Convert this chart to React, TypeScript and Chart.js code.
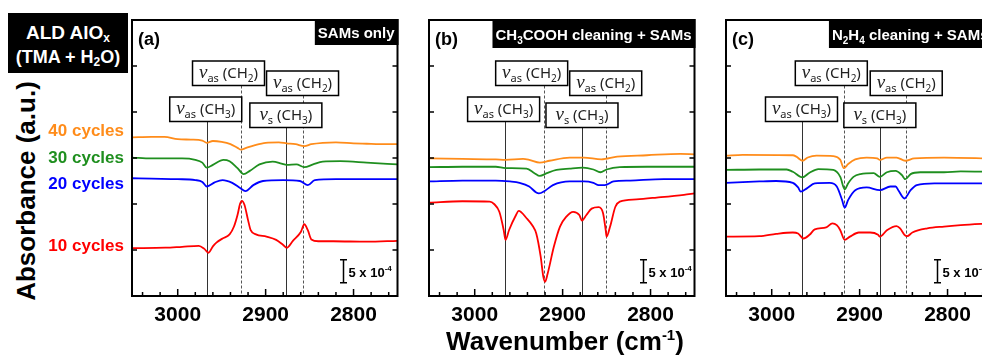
import React, { useEffect, useRef } from 'react';
import { Chart, registerables } from 'chart.js';

Chart.register(...registerables);

// ---------- axes ----------
const X_MIN = 2750;
const X_MAX = 3052;
const Y_MIN = 0;
const Y_MAX = 60; // absorbance, units of 1e-4
const xMinorTicks = [3040, 3020, 3000, 2980, 2960, 2940, 2920, 2900, 2880, 2860, 2840, 2820, 2800, 2780, 2760];
const xMajorTicks = [3000, 2900, 2800];
const yTicks = [10, 20, 30, 40, 50];

// ---------- series (wavenumber, absorbance x1e-4) ----------
const cycleLabels = ['40 cycles', '30 cycles', '20 cycles', '10 cycles'];
const cycleColors = ['#ff8c1a', '#1f8f1f', '#0000ff', '#ff0000'];

type Pair = [number, number];

const a40: Pair[] = [[3052,34.5],[3030,34.6],[3015,34.6],[3000,34.1],[2985,34.0],[2972,33.8],[2967,33.3],[2960,33.7],[2950,33.5],[2940,33.0],[2932,32.2],[2928,31.8],[2922,32.2],[2912,32.8],[2900,33.3],[2885,33.4],[2876,33.2],[2866,33.0],[2856,32.6],[2848,33.0],[2835,33.3],[2820,33.4],[2800,33.2],[2785,33.1],[2770,33.0],[2750,33.0]];
const a30: Pair[] = [[3052,30.1],[3030,29.9],[3014,29.9],[2995,29.9],[2980,29.6],[2972,29.0],[2967,27.9],[2960,28.5],[2948,29.6],[2941,29.3],[2932,27.8],[2925,26.5],[2918,27.2],[2907,28.6],[2892,29.2],[2882,28.8],[2876,28.5],[2865,28.6],[2856,28.0],[2846,28.6],[2835,29.2],[2815,29.3],[2785,29.0],[2750,28.6]];
const a20: Pair[] = [[3052,25.6],[3030,25.5],[3000,25.4],[2980,25.2],[2972,24.8],[2967,23.8],[2958,24.7],[2949,25.2],[2938,24.6],[2929,23.5],[2923,22.8],[2914,24.1],[2903,25.0],[2880,25.2],[2861,25.0],[2852,24.1],[2844,25.2],[2820,25.4],[2750,25.4]];
const a10: Pair[] = [[3052,10.4],[3014,10.5],[2995,10.7],[2976,10.9],[2970,10.3],[2965,9.4],[2960,10.8],[2956,11.6],[2949,12.5],[2941,13.4],[2936,15.1],[2932,17.6],[2929,20.1],[2927,20.7],[2924,19.8],[2920,16.5],[2917,14.3],[2911,13.4],[2899,12.9],[2888,12.2],[2880,11.1],[2876,10.5],[2869,12.0],[2860,13.9],[2856,15.6],[2852,14.3],[2848,12.3],[2840,11.9],[2823,11.9],[2785,11.8],[2750,12.0]];

const b40: Pair[] = [[3052,29.9],[3014,29.8],[2976,29.7],[2965,29.6],[2945,29.8],[2938,29.6],[2926,29.0],[2915,29.4],[2892,30.1],[2876,30.1],[2856,29.7],[2838,30.3],[2804,30.6],[2766,30.9],[2750,30.8]];
const b30: Pair[] = [[3052,28.0],[3014,28.1],[2976,28.1],[2965,27.8],[2941,27.7],[2932,26.7],[2926,26.1],[2918,26.7],[2907,27.4],[2892,27.7],[2877,27.9],[2865,27.5],[2857,26.9],[2850,27.5],[2835,28.0],[2804,28.1],[2750,28.1]];
const b20: Pair[] = [[3052,24.9],[3014,25.1],[2976,25.1],[2960,24.9],[2949,24.6],[2938,23.8],[2930,22.5],[2927,22.3],[2920,22.9],[2911,24.1],[2892,24.9],[2876,24.9],[2865,24.6],[2859,24.1],[2852,24.1],[2842,24.9],[2823,25.1],[2785,25.4],[2750,25.4]];
const b10: Pair[] = [[3052,20.3],[3014,20.6],[2983,20.5],[2978,20.0],[2972,18.3],[2967,14.3],[2965,12.2],[2961,14.3],[2953,17.6],[2950,18.5],[2941,16.9],[2934,15.2],[2930,13.6],[2925,8.6],[2922,4.2],[2920,3.1],[2917,4.9],[2910,10.7],[2903,15.1],[2896,17.2],[2888,18.3],[2881,17.6],[2878,16.4],[2873,17.6],[2867,19.0],[2859,19.3],[2854,18.0],[2851,14.3],[2850,12.9],[2846,15.1],[2840,19.4],[2835,20.5],[2816,21.0],[2793,21.4],[2762,22.0],[2750,22.3]];

const c40: Pair[] = [[3052,30.5],[3033,30.7],[2976,30.6],[2972,30.3],[2965,29.4],[2959,30.1],[2949,30.5],[2930,30.4],[2922,29.6],[2918,27.8],[2913,28.7],[2905,29.7],[2892,30.1],[2880,29.9],[2877,29.6],[2869,30.1],[2858,30.1],[2848,29.4],[2838,29.9],[2804,30.1],[2750,29.9]];
const c30: Pair[] = [[3052,27.4],[3014,27.5],[2983,27.5],[2976,27.0],[2965,25.8],[2957,26.8],[2947,27.6],[2930,27.4],[2922,25.9],[2917,23.2],[2913,24.5],[2907,25.9],[2899,26.5],[2884,26.7],[2877,25.9],[2869,26.9],[2859,27.2],[2852,26.3],[2848,25.4],[2842,26.5],[2831,26.9],[2804,26.9],[2785,27.1],[2750,27.0]];
const c20: Pair[] = [[3052,24.6],[3014,24.9],[2995,25.0],[2976,24.6],[2970,23.6],[2967,22.7],[2960,23.4],[2951,24.5],[2934,24.6],[2926,23.8],[2920,20.9],[2917,19.2],[2913,20.9],[2905,23.0],[2892,23.6],[2877,23.0],[2865,23.8],[2859,23.8],[2856,23.0],[2849,21.2],[2842,23.0],[2835,24.1],[2815,24.5],[2750,24.5]];
const c10: Pair[] = [[3052,12.9],[3014,13.0],[2995,13.5],[2976,13.8],[2970,13.6],[2964,12.5],[2957,13.3],[2951,14.5],[2938,14.9],[2931,15.8],[2926,15.4],[2922,14.3],[2917,12.2],[2911,12.9],[2901,13.8],[2888,13.8],[2879,13.3],[2877,12.9],[2869,14.3],[2858,15.2],[2854,14.7],[2849,13.3],[2846,13.0],[2840,13.8],[2823,14.7],[2804,15.1],[2785,15.4],[2750,15.8]];

// peak marker positions (cm-1): vas(CH3), vas(CH2), vs(CH3), vas(CH2)
const peaksA = [2967, 2928, 2877, 2858];
const peaksB = [2966, 2921, 2878, 2851];
const peaksC = [2965, 2918, 2877, 2847];

// scale bar: 5 x 10^-4
const scaleBarValue = 5;
const scaleBarBase = 2.9;
const scaleBarX = [2812, 2809, 2812];

// ---------- styling ----------
const SANS = '"Liberation Sans", Arial, sans-serif';
const NOTO = '"Noto Sans", sans-serif';

type Seg = { t: string; font: string; dy: number };

const annotLayout = [
  { sub: 'as', grp: '3', dashed: false, dx: -1, top: 77 },
  { sub: 'as', grp: '2', dashed: true, dx: -12.5, top: 41 },
  { sub: 's', grp: '3', dashed: false, dx: 0, top: 83 },
  { sub: 'as', grp: '2', dashed: true, dx: 0, top: 51 },
];
const BOX_W = 72;
const BOX_H = 24.5;

function annSegs(sub: string, grp: string): Seg[] {
  return [
    { t: 'ν', font: `italic 19px "Liberation Serif", serif`, dy: 0 },
    { t: sub, font: `11px ${NOTO}`, dy: 4 },
    { t: ' (CH', font: `15px ${NOTO}`, dy: 0 },
    { t: grp, font: `10px ${NOTO}`, dy: 4 },
    { t: ')', font: `15px ${NOTO}`, dy: 0 },
  ];
}

const HB = `bold 15px ${SANS}`;
const HS = `bold 10px ${SANS}`;

interface PanelCfg {
  tag: string;
  header: Seg[];
  headerH: number;
  headerBase: number;
  series: Pair[][];
  peaks: number[];
  barX: number;
}

const panels: PanelCfg[] = [
  { tag: '(a)', header: [{ t: 'SAMs only', font: HB, dy: 0 }], headerH: 25, headerBase: 18, series: [a40, a30, a20, a10], peaks: peaksA, barX: scaleBarX[0] },
  { tag: '(b)', header: [{ t: 'CH', font: HB, dy: 0 }, { t: '3', font: HS, dy: 4 }, { t: 'COOH cleaning + SAMs', font: HB, dy: 0 }], headerH: 28, headerBase: 20, series: [b40, b30, b20, b10], peaks: peaksB, barX: scaleBarX[1] },
  { tag: '(c)', header: [{ t: 'N', font: HB, dy: 0 }, { t: '2', font: HS, dy: 4 }, { t: 'H', font: HB, dy: 0 }, { t: '4', font: HS, dy: 4 }, { t: ' cleaning + SAMs', font: HB, dy: 0 }], headerH: 28, headerBase: 20, series: [c40, c30, c20, c10], peaks: peaksC, barX: scaleBarX[2] },
];

function richWidth(ctx: CanvasRenderingContext2D, segs: Seg[]) {
  let w = 0;
  for (const s of segs) { ctx.font = s.font; w += ctx.measureText(s.t).width; }
  return w;
}
function drawRich(ctx: CanvasRenderingContext2D, segs: Seg[], x: number, y: number) {
  let cx = x;
  for (const s of segs) {
    ctx.font = s.font;
    ctx.fillText(s.t, cx, y + s.dy);
    cx += ctx.measureText(s.t).width;
  }
}

function makeDecor(cfg: PanelCfg) {
  return {
    id: 'decor',
    beforeDatasetsDraw(chart: any) {
      const { ctx, chartArea: a, scales } = chart;
      const x = scales.x;
      ctx.save();
      cfg.peaks.forEach((wn, i) => {
        const an = annotLayout[i];
        const px = Math.round(x.getPixelForValue(wn)) + 0.5;
        ctx.beginPath();
        ctx.lineWidth = 1;
        ctx.strokeStyle = an.dashed ? '#555' : '#333';
        ctx.setLineDash(an.dashed ? [3, 2] : []);
        ctx.moveTo(px, a.top + an.top + BOX_H);
        ctx.lineTo(px, a.bottom);
        ctx.stroke();
      });
      ctx.restore();
    },
    afterDatasetsDraw(chart: any) {
      const { ctx, chartArea: a, scales } = chart;
      const x = scales.x;
      const y = scales.y;
      ctx.save();
      ctx.setLineDash([]);
      // annotation boxes
      cfg.peaks.forEach((wn, i) => {
        const an = annotLayout[i];
        const cx = x.getPixelForValue(wn) + an.dx;
        const bx = cx - BOX_W / 2;
        const by = a.top + an.top;
        ctx.fillStyle = '#fff';
        ctx.fillRect(bx, by, BOX_W, BOX_H);
        ctx.lineWidth = 1.5;
        ctx.strokeStyle = '#000';
        ctx.strokeRect(bx, by, BOX_W, BOX_H);
        const segs = annSegs(an.sub, an.grp);
        const w = richWidth(ctx, segs);
        ctx.fillStyle = '#222';
        ctx.textBaseline = 'alphabetic';
        drawRich(ctx, segs, cx - w / 2, by + 17);
      });
      // scale bar
      const sx = Math.round(x.getPixelForValue(cfg.barX)) + 0.5;
      const y0 = y.getPixelForValue(scaleBarBase);
      const y1 = y.getPixelForValue(scaleBarBase + scaleBarValue);
      ctx.strokeStyle = '#000';
      ctx.lineWidth = 1.5;
      ctx.beginPath();
      ctx.moveTo(sx, y0); ctx.lineTo(sx, y1);
      ctx.moveTo(sx - 3.5, y0); ctx.lineTo(sx + 3.5, y0);
      ctx.moveTo(sx - 3.5, y1); ctx.lineTo(sx + 3.5, y1);
      ctx.stroke();
      ctx.fillStyle = '#000';
      drawRich(ctx, [
        { t: '5 x 10', font: `bold 13px ${SANS}`, dy: 0 },
        { t: '-4', font: `bold 8px ${SANS}`, dy: -6 },
      ], sx + 5, (y0 + y1) / 2 + 6);
      // frame
      ctx.lineWidth = 2;
      ctx.strokeStyle = '#000';
      ctx.strokeRect(a.left, a.top, a.right - a.left, a.bottom - a.top);
      // inward ticks
      ctx.lineWidth = 1.5;
      ctx.beginPath();
      for (const v of xMinorTicks) {
        const px = x.getPixelForValue(v);
        const len = xMajorTicks.includes(v) ? 7 : 4;
        ctx.moveTo(px, a.bottom); ctx.lineTo(px, a.bottom - len);
      }
      for (const v of yTicks) {
        const py = y.getPixelForValue(v);
        ctx.moveTo(a.left, py); ctx.lineTo(a.left + 5, py);
        ctx.moveTo(a.right, py); ctx.lineTo(a.right - 5, py);
      }
      ctx.stroke();
      // header box (top-right)
      const hw = richWidth(ctx, cfg.header) + 6;
      ctx.fillStyle = '#000';
      ctx.fillRect(a.right - hw, a.top - 1, hw + 1, cfg.headerH + 1);
      ctx.fillStyle = '#fff';
      drawRich(ctx, cfg.header, a.right - hw + 3, a.top + cfg.headerBase);
      // panel tag
      ctx.fillStyle = '#000';
      ctx.font = `bold 18px ${SANS}`;
      ctx.fillText(cfg.tag, a.left + 6, a.top + 25);
      ctx.restore();
    },
  };
}

function Panel({ cfg, left }: { cfg: PanelCfg; left: number }) {
  const ref = useRef<HTMLCanvasElement>(null);
  useEffect(() => {
    const chart = new Chart(ref.current as HTMLCanvasElement, {
      type: 'line',
      data: {
        datasets: cfg.series.map((s, i) => ({
          label: cycleLabels[i],
          data: s.map(([wx, wy]) => ({ x: wx, y: wy })),
          borderColor: cycleColors[i],
          borderWidth: 1.8,
          pointRadius: 0,
          fill: false,
          cubicInterpolationMode: 'monotone' as const,
        })),
      },
      options: {
        animation: false,
        responsive: false,
        maintainAspectRatio: false,
        events: [],
        layout: { padding: { left: 10, right: 10.5, top: 20, bottom: 0 } },
        plugins: { legend: { display: false }, tooltip: { enabled: false } },
        scales: {
          x: {
            type: 'linear',
            reverse: true,
            min: X_MIN,
            max: X_MAX,
            afterFit: (s: any) => { s.height = 60; },
            afterBuildTicks: (s: any) => { s.ticks = xMinorTicks.map((v) => ({ value: v })); },
            grid: { display: false, drawTicks: false },
            border: { display: false },
            ticks: {
              autoSkip: false,
              maxRotation: 0,
              padding: 7,
              color: '#000',
              font: { family: SANS, size: 21, weight: 'bold' },
              callback: (v: any) => (xMajorTicks.includes(Number(v)) ? String(v) : ''),
            },
          },
          y: {
            type: 'linear',
            min: Y_MIN,
            max: Y_MAX,
            afterFit: (s: any) => { s.width = 0; },
            afterBuildTicks: (s: any) => { s.ticks = yTicks.map((v) => ({ value: v })); },
            grid: { display: false, drawTicks: false },
            border: { display: false },
            ticks: { display: false },
          },
        },
      } as any,
      plugins: [makeDecor(cfg)],
    });
    return () => chart.destroy();
  }, [cfg]);
  return (
    <canvas
      ref={ref}
      width={286}
      height={356}
      style={{ position: 'absolute', left, top: 0, width: 286, height: 356 }}
    />
  );
}

const cycleLabelTops = [121, 148, 174, 236];

export default function App() {
  return (
    <div style={{ position: 'fixed', left: 0, top: 0, width: 982, height: 356, overflow: 'hidden', background: '#fff', fontFamily: SANS }}>
      <Panel cfg={panels[0]} left={122} />
      <Panel cfg={panels[1]} left={419} />
      <Panel cfg={panels[2]} left={716} />
      <div style={{ position: 'absolute', left: 8, top: 13, width: 120, height: 60, background: '#000', color: '#fff', fontWeight: 'bold', textAlign: 'center', paddingTop: 8, boxSizing: 'border-box' }}>
        <div style={{ fontSize: 19, lineHeight: '24px' }}>ALD AlO<sub style={{ fontSize: 12, verticalAlign: '-3px', lineHeight: 0 }}>x</sub></div>
        <div style={{ fontSize: 18, lineHeight: '24px' }}>(TMA + H<sub style={{ fontSize: 12, verticalAlign: '-3px', lineHeight: 0 }}>2</sub>O)</div>
      </div>
      <div style={{ position: 'absolute', left: 26, top: 191, transform: 'translate(-50%, -50%) rotate(-90deg)', whiteSpace: 'nowrap', fontWeight: 'bold', fontSize: 26, lineHeight: '26px', color: '#000' }}>
        Absorbance (a.u.)
      </div>
      {cycleLabels.map((t, i) => (
        <div key={t} style={{ position: 'absolute', right: 982 - 124, top: cycleLabelTops[i], fontWeight: 'bold', fontSize: 17, lineHeight: '20px', color: cycleColors[i], whiteSpace: 'nowrap' }}>
          {t}
        </div>
      ))}
      <div style={{ position: 'absolute', left: 365, width: 400, top: 326, textAlign: 'center', fontWeight: 'bold', fontSize: 26, lineHeight: '30px', color: '#000', whiteSpace: 'nowrap' }}>
        Wavenumber (cm<sup style={{ fontSize: 15, verticalAlign: '10px', lineHeight: 0 }}>-1</sup>)
      </div>
    </div>
  );
}
